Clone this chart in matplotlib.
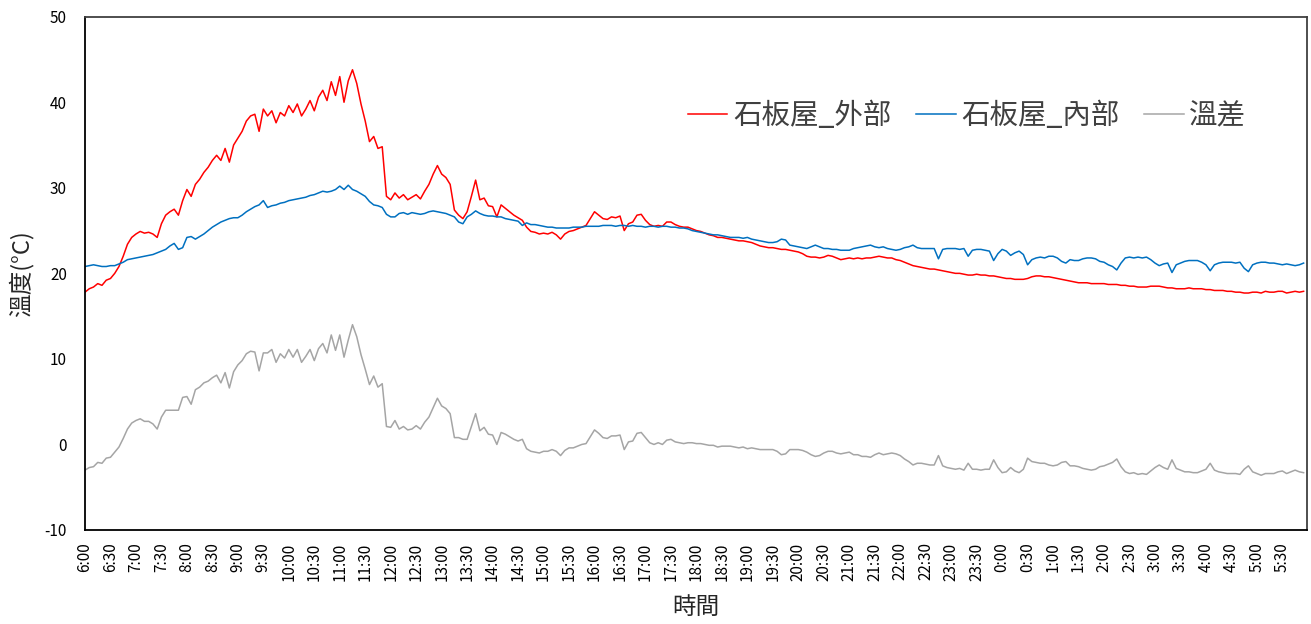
import numpy as np
import matplotlib
matplotlib.use('Agg')
from matplotlib import pyplot as plt

plt.rcParams['font.family'] = ['Noto Sans CJK TC', 'DejaVu Sans']
plt.rcParams['axes.unicode_minus'] = False

# readings every 5 minutes, starting at 6:00 (one row per hour)
outside = [
    17.8, 18.2, 18.4, 18.8, 18.6, 19.2, 19.4, 20.0, 20.8, 22.0, 23.4, 24.2,   # 6:00
    24.6, 24.9, 24.7, 24.8, 24.6, 24.2, 25.8, 26.8, 27.2, 27.5, 26.8, 28.5,   # 7:00
    29.8, 29.0, 30.4, 31.0, 31.8, 32.4, 33.2, 33.8, 33.2, 34.6, 33.0, 35.0,   # 8:00
    35.8, 36.6, 37.8, 38.4, 38.6, 36.6, 39.2, 38.4, 39.0, 37.6, 38.8, 38.4,   # 9:00
    39.6, 38.8, 39.8, 38.4, 39.2, 40.2, 39.0, 40.6, 41.4, 40.2, 42.4, 40.8,   # 10:00
    43.0, 40.0, 42.5, 43.8, 42.2, 39.8, 37.8, 35.4, 36.0, 34.6, 34.8, 29.0,   # 11:00
    28.6, 29.4, 28.8, 29.2, 28.6, 28.9, 29.2, 28.7, 29.6, 30.4, 31.6, 32.6,   # 12:00
    31.6, 31.2, 30.4, 27.4, 26.8, 26.4, 27.2, 29.0, 30.9, 28.6, 28.8, 27.9,   # 13:00
    27.8, 26.6, 28.0, 27.6, 27.2, 26.8, 26.5, 26.2, 25.4, 24.9, 24.8, 24.6,   # 14:00
    24.7, 24.6, 24.8, 24.5, 24.0, 24.6, 24.9, 25.0, 25.2, 25.4, 25.6, 26.4,   # 15:00
    27.2, 26.8, 26.4, 26.3, 26.6, 26.5, 26.7, 25.0, 25.8, 26.0, 26.8, 26.9,   # 16:00
    26.2, 25.7, 25.5, 25.6, 25.5, 26.0, 26.0, 25.7, 25.5, 25.4, 25.4, 25.2,   # 17:00
    25.0, 24.9, 24.7, 24.5, 24.4, 24.2, 24.2, 24.1, 24.0, 23.9, 23.8, 23.8,   # 18:00
    23.7, 23.6, 23.4, 23.2, 23.1, 23.0, 23.0, 22.9, 22.8, 22.8, 22.7, 22.6,   # 19:00
    22.5, 22.3, 22.0, 21.9, 21.9, 21.8, 21.9, 22.1, 22.0, 21.8, 21.6, 21.7,   # 20:00
    21.8, 21.7, 21.8, 21.7, 21.8, 21.8, 21.9, 22.0, 21.9, 21.8, 21.8, 21.6,   # 21:00
    21.5, 21.3, 21.1, 20.9, 20.8, 20.7, 20.6, 20.5, 20.5, 20.4, 20.3, 20.2,   # 22:00
    20.1, 20.0, 20.0, 19.9, 19.8, 19.8, 19.9, 19.8, 19.8, 19.7, 19.7, 19.6,   # 23:00
    19.5, 19.4, 19.4, 19.3, 19.3, 19.3, 19.4, 19.6, 19.7, 19.7, 19.6, 19.6,   # 0:00
    19.5, 19.4, 19.3, 19.2, 19.1, 19.0, 18.9, 18.9, 18.9, 18.8, 18.8, 18.8,   # 1:00
    18.8, 18.7, 18.7, 18.7, 18.6, 18.6, 18.5, 18.5, 18.4, 18.4, 18.4, 18.5,   # 2:00
    18.5, 18.5, 18.4, 18.3, 18.3, 18.2, 18.2, 18.2, 18.3, 18.2, 18.2, 18.2,   # 3:00
    18.1, 18.1, 18.0, 18.0, 18.0, 17.9, 17.9, 17.8, 17.8, 17.7, 17.7, 17.8,   # 4:00
    17.8, 17.7, 17.9, 17.8, 17.8, 17.9, 17.9, 17.7, 17.8, 17.9, 17.8, 17.9,   # 5:00
]

inside = [
    20.8, 20.9, 21.0, 20.9, 20.8, 20.8, 20.9, 20.9, 21.1, 21.3, 21.6, 21.7,   # 6:00
    21.8, 21.9, 22.0, 22.1, 22.2, 22.4, 22.6, 22.8, 23.2, 23.5, 22.8, 23.0,   # 7:00
    24.2, 24.3, 24.0, 24.3, 24.6, 25.0, 25.4, 25.7, 26.0, 26.2, 26.4, 26.5,   # 8:00
    26.5, 26.8, 27.2, 27.5, 27.8, 28.0, 28.5, 27.7, 27.9, 28.0, 28.2, 28.3,   # 9:00
    28.5, 28.6, 28.7, 28.8, 28.9, 29.1, 29.2, 29.4, 29.6, 29.5, 29.6, 29.8,   # 10:00
    30.2, 29.8, 30.3, 29.8, 29.6, 29.3, 29.0, 28.4, 28.0, 27.9, 27.7, 26.9,   # 11:00
    26.6, 26.6, 27.0, 27.1, 26.9, 27.1, 27.0, 26.9, 27.0, 27.2, 27.3, 27.2,   # 12:00
    27.1, 27.0, 26.8, 26.6, 26.0, 25.8, 26.6, 26.9, 27.3, 27.0, 26.8, 26.7,   # 13:00
    26.7, 26.6, 26.6, 26.4, 26.3, 26.2, 26.1, 25.6, 25.9, 25.7, 25.7, 25.6,   # 14:00
    25.5, 25.4, 25.4, 25.3, 25.3, 25.3, 25.3, 25.4, 25.4, 25.4, 25.5, 25.5,   # 15:00
    25.5, 25.5, 25.6, 25.6, 25.6, 25.5, 25.6, 25.6, 25.5, 25.6, 25.5, 25.5,   # 16:00
    25.4, 25.5, 25.5, 25.4, 25.5, 25.5, 25.4, 25.4, 25.3, 25.3, 25.2, 25.0,   # 17:00
    24.9, 24.8, 24.7, 24.6, 24.5, 24.5, 24.4, 24.3, 24.2, 24.2, 24.2, 24.1,   # 18:00
    24.2, 24.0, 23.9, 23.8, 23.7, 23.6, 23.6, 23.7, 24.0, 23.9, 23.3, 23.2,   # 19:00
    23.1, 23.0, 22.9, 23.1, 23.3, 23.1, 22.9, 22.9, 22.8, 22.8, 22.7, 22.7,   # 20:00
    22.7, 22.9, 23.0, 23.1, 23.2, 23.3, 23.1, 23.0, 23.1, 22.9, 22.8, 22.7,   # 21:00
    22.8, 23.0, 23.1, 23.3, 23.0, 22.9, 22.9, 22.9, 22.9, 21.7, 22.8, 22.9,   # 22:00
    22.9, 22.9, 22.8, 22.9, 22.0, 22.7, 22.8, 22.8, 22.7, 22.6, 21.5, 22.3,   # 23:00
    22.8, 22.6, 22.1, 22.4, 22.6, 22.2, 21.0, 21.6, 21.8, 21.9, 21.8, 22.0,   # 0:00
    22.0, 21.8, 21.4, 21.2, 21.6, 21.5, 21.5, 21.7, 21.8, 21.8, 21.7, 21.4,   # 1:00
    21.3, 21.0, 20.8, 20.4, 21.2, 21.8, 21.9, 21.8, 21.9, 21.8, 21.9, 21.6,   # 2:00
    21.2, 20.9, 21.1, 21.2, 20.1, 21.0, 21.2, 21.4, 21.5, 21.5, 21.5, 21.3,   # 3:00
    21.0, 20.3, 21.0, 21.2, 21.3, 21.3, 21.3, 21.2, 21.3, 20.6, 20.2, 21.0,   # 4:00
    21.2, 21.3, 21.3, 21.2, 21.2, 21.1, 21.0, 21.1, 21.0, 20.9, 21.0, 21.2,   # 5:00
]

tick_labels = ['6:00', '6:30', '7:00', '7:30', '8:00', '8:30', '9:00', '9:30',
               '10:00', '10:30', '11:00', '11:30', '12:00', '12:30', '13:00', '13:30',
               '14:00', '14:30', '15:00', '15:30', '16:00', '16:30', '17:00', '17:30',
               '18:00', '18:30', '19:00', '19:30', '20:00', '20:30', '21:00', '21:30',
               '22:00', '22:30', '23:00', '23:30', '0:00', '0:30', '1:00', '1:30',
               '2:00', '2:30', '3:00', '3:30', '4:00', '4:30', '5:00', '5:30']
series_names = ['石板屋_外部', '石板屋_內部', '溫差']

minutes = np.arange(len(outside)) * 5
outside = np.array(outside)
inside = np.array(inside)
diff = outside - inside

fig = plt.figure(figsize=(13.11, 6.24), dpi=100)
ax = fig.add_axes([85 / 1311, 94 / 624, 1222 / 1311, 513.3 / 624])

ax.plot(minutes, outside, color='#FF0000', lw=1.1, label=series_names[0])
ax.plot(minutes, inside, color='#0070C0', lw=1.1, label=series_names[1])
ax.plot(minutes, diff, color='#A5A5A5', lw=1.1, label=series_names[2])

ax.set_xlim(0, 1439)
ax.set_ylim(-10, 50)
ax.set_yticks(np.arange(-10, 51, 10))
ax.set_xticks(np.arange(len(tick_labels)) * 30)
ax.set_xticklabels(tick_labels, rotation=90)
ax.tick_params(axis='y', length=0, pad=13, labelsize=11)
ax.tick_params(axis='x', length=0, pad=9, labelsize=11)

for side in ('left', 'bottom'):
    ax.spines[side].set_color('black')
    ax.spines[side].set_linewidth(1.3)
for side in ('top', 'right'):
    ax.spines[side].set_color('#404040')
    ax.spines[side].set_linewidth(1.3)

ax.set_ylabel('溫度(°C)', fontsize=17, fontweight='light', color='#262626', labelpad=8)
ax.set_xlabel('時間', fontsize=17, fontweight='light', color='#262626', labelpad=11)

leg = ax.legend(loc='center', bbox_to_anchor=(967 / 1311, 508 / 624),
                bbox_transform=fig.transFigure, ncol=3, frameon=False,
                prop={'size': 20.5, 'weight': 'light'}, handlelength=1.4,
                handletextpad=0.2, columnspacing=0.85)
for txt in leg.get_texts():
    txt.set_color('#404040')

plt.savefig('out.png', dpi=100)
